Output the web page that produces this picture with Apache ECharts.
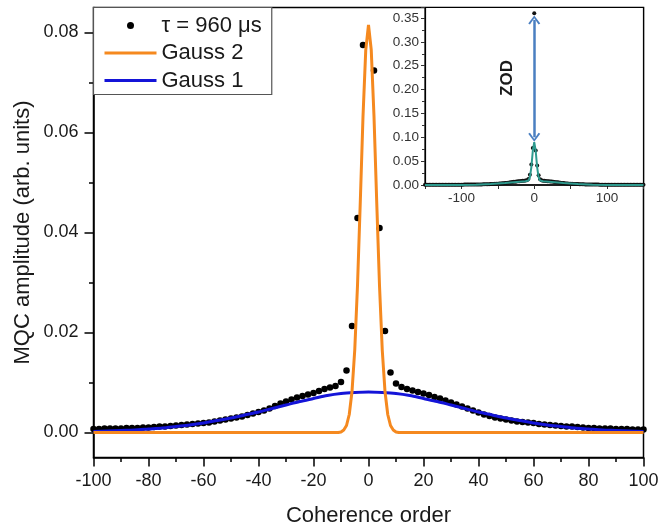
<!DOCTYPE html>
<html>
<head>
<meta charset="utf-8">
<script src="https://cdn.jsdelivr.net/npm/echarts@6/dist/echarts.min.js"></script>
<style>
  html, body { margin: 0; padding: 0; background: #fff; }
  #chart { width: 659px; height: 530px; }
</style>
</head>
<body>
<div id="chart"></div>
<script>
// Coherence orders of the measured MQC spectrum (even orders only)
const orders = [
  -150,-148,-146,-144,-142,-140,-138,-136,-134,-132,-130,-128,-126,-124,-122,-120,-118,-116,-114,-112,-110,-108,-106,-104,-102,
  -100,-98,-96,-94,-92,-90,-88,-86,-84,-82,-80,-78,-76,-74,-72,-70,-68,-66,-64,-62,
  -60,-58,-56,-54,-52,-50,-48,-46,-44,-42,-40,-38,-36,-34,-32,-30,-28,-26,-24,-22,
  -20,-18,-16,-14,-12,-10,-8,-6,-4,-2,0,2,4,6,8,10,12,14,16,18,20,
  22,24,26,28,30,32,34,36,38,40,42,44,46,48,50,52,54,56,58,60,
  62,64,66,68,70,72,74,76,78,80,82,84,86,88,90,92,94,96,98,100,
  102,104,106,108,110,112,114,116,118,120,122,124,126,128,130,132,134,136,138,140,142,144,146,148,150
];
// Measured amplitude, tau = 960 us
const amplitude = [
  0.0003,0.0003,0.0003,0.0003,0.0003,0.0003,0.0003,0.0003,0.0004,0.0004,0.0004,0.0004,0.0004,0.0004,0.0004,0.0005,0.0005,0.0005,0.0005,0.0005,0.0005,0.0006,0.0006,0.0006,0.0007,
  0.0007,0.0007,0.0008,0.0008,0.0008,0.0008,0.0009,0.0009,0.0009,0.0010,0.0010,0.0011,0.0012,0.0012,0.0013,0.0014,0.0015,0.0016,0.0017,0.0018,
  0.0019,0.0020,0.0022,0.0024,0.0026,0.0028,0.0030,0.0032,0.0035,0.0038,0.0041,0.0044,0.0048,0.0053,0.0058,0.0062,0.0066,0.0070,0.0073,0.0076,
  0.0079,0.0083,0.0087,0.0090,0.0093,0.0101,0.0124,0.0213,0.0429,0.0775,0.360,0.0724,0.0409,0.0203,0.0120,0.0098,0.0091,0.0087,0.0084,0.0081,0.0078,
  0.0075,0.0071,0.0068,0.0064,0.0060,0.0056,0.0052,0.0048,0.0044,0.0040,0.0036,0.0033,0.0030,0.0028,0.0026,0.0024,0.0022,0.0021,0.0020,0.0019,
  0.0017,0.0016,0.0015,0.0014,0.0013,0.0012,0.0012,0.0011,0.0010,0.0009,0.0009,0.0008,0.0008,0.0008,0.0007,0.0007,0.0007,0.0006,0.0006,0.0006,
  0.0006,0.0005,0.0005,0.0005,0.0005,0.0005,0.0004,0.0004,0.0004,0.0004,0.0004,0.0004,0.0004,0.0003,0.0003,0.0003,0.0003,0.0003,0.0003,0.0003,0.0003,0.0003,0.0003,0.0003,0.0003
];

// Narrow Gaussian component (Gauss 2)
const gauss2Orders = [-100,-11,-10,-9,-8,-7,-6,-5,-4,-3,-2,-1,0,1,2,3,4,5,6,7,8,9,10,11,100];
const gauss2Values = [0,0,0.0001,0.0005,0.0014,0.0036,0.0082,0.0165,0.0294,0.0459,0.0632,0.0765,0.0815,
                      0.0765,0.0632,0.0459,0.0294,0.0165,0.0082,0.0036,0.0014,0.0005,0.0001,0,0];

// Broad Gaussian component (Gauss 1)
const gauss1Orders = [-100,-95,-90,-85,-80,-75,-70,-65,-60,-55,-50,-45,-40,-35,-30,-25,-20,-15,-10,-5,0,
                      5,10,15,20,25,30,35,40,45,50,55,60,65,70,75,80,85,90,95,100];
const gauss1Values = [0.0002,0.0003,0.0004,0.0005,0.0007,0.0009,0.0012,0.0015,0.0019,0.0024,0.0029,0.0035,0.0041,0.0048,0.0055,0.0062,0.0068,0.0074,0.0078,0.0080,0.0081,
                      0.0080,0.0078,0.0074,0.0068,0.0062,0.0055,0.0048,0.0041,0.0035,0.0029,0.0024,0.0019,0.0015,0.0012,0.0009,0.0007,0.0005,0.0004,0.0003,0.0002];

// Total fit shown in the overview panel
const fitOrders = [-150,-120,-100,-80,-60,-40,-20,-12,-10,-8,-6,-4,-2,0,2,4,6,8,10,12,20,40,60,80,100,120,150];
const fitValues = [0,0.0001,0.0002,0.0007,0.0019,0.0041,0.0068,0.0077,0.0079,0.0094,0.0161,0.0370,0.0712,0.0896,
                   0.0712,0.0370,0.0161,0.0094,0.0079,0.0077,0.0068,0.0041,0.0019,0.0007,0.0002,0.0001,0];

// Zero-order (ZOD) excess marked by the double arrow
const zodOrder = 0;
const zodRange = [0.100, 0.346];

// Axis tick values
const mainYTicks = [0, 0.02, 0.04, 0.06, 0.08];
const mainYMinorTicks = [0.01, 0.03, 0.05, 0.07];
const insetXLabels = [-100, 0, 100];

const pairs = (xs, ys) => xs.map((x, i) => [x, ys[i]]);

const FONT = '"Liberation Sans", Arial, sans-serif';
const INK = '#1a1a1a';
const ORANGE = '#f5891f';
const BLUE = '#1414d8';
const TEAL = '#2e9a8e';
const ARROW = '#4a7fc1';
const chevron = 'path://M0,9 L5,0 L10,9 L8.6,10 L5,3.2 L1.4,10 Z';
const lineIcon = 'path://M0,0 L52,0 L52,3 L0,3 Z';

const chart = echarts.init(document.getElementById('chart'), null, { renderer: 'canvas' });

chart.setOption({
  animation: false,
  backgroundColor: '#fff',
  textStyle: { fontFamily: FONT, color: INK },
  grid: [
    { left: 93.5, right: 15.5, top: 7.5, bottom: 72.5, outerBoundsMode: 'none', containLabel: false,
      show: true, borderColor: '#000', borderWidth: 1.5, backgroundColor: 'transparent' },
    { left: 425, right: 15.5, top: 7.5, bottom: 345, outerBoundsMode: 'none', containLabel: false,
      show: true, borderColor: '#000', borderWidth: 1.2, backgroundColor: '#fff' }
  ],
  legend: {
    left: 93.5, top: 7.5,
    orient: 'vertical',
    data: [
      { name: 'τ = 960 μs', icon: 'circle' },
      { name: 'Gauss 2', icon: lineIcon },
      { name: 'Gauss 1', icon: lineIcon }
    ],
    itemWidth: 52, itemHeight: 7, itemGap: 5.5,
    padding: [7, 10, 3, 11],
    backgroundColor: '#fff',
    borderColor: '#555', borderWidth: 1.2,
    textStyle: { fontFamily: FONT, fontSize: 22, lineHeight: 22, color: INK },
    selectedMode: false
  },
  xAxis: [
    {
      gridIndex: 0, type: 'value', min: -100, max: 100, interval: 20,
      axisLine: { onZero: false, lineStyle: { color: '#000', width: 1.5 } },
      axisTick: { inside: false, length: 9, lineStyle: { color: '#000', width: 1.5 } },
      minorTick: { show: true, splitNumber: 2, length: 4.5, lineStyle: { color: '#000', width: 1.5 } },
      splitLine: { show: false },
      axisLabel: { fontFamily: FONT, fontSize: 18, color: INK, margin: 15 },
      name: 'Coherence order', nameLocation: 'middle', nameGap: 47, nameMoveOverlap: false,
      nameTextStyle: { fontFamily: FONT, fontSize: 22, color: INK }
    },
    {
      gridIndex: 1, type: 'value', min: -150, max: 150, interval: 50,
      axisLine: { onZero: false, lineStyle: { color: '#000', width: 1.5 } },
      axisTick: { inside: false, length: 4, lineStyle: { color: '#333', width: 1 } },
      splitLine: { show: false },
      axisLabel: {
        fontFamily: FONT, fontSize: 13.5, color: '#333', margin: 6,
        formatter: v => insetXLabels.includes(v) ? String(v) : ''
      }
    }
  ],
  yAxis: [
    {
      gridIndex: 0, type: 'value', min: -0.005, max: 0.085, position: 'left',
      axisLine: { show: true, onZero: false, lineStyle: { color: '#000', width: 1.5 } },
      axisTick: { show: true, inside: false, length: 9, customValues: mainYTicks, lineStyle: { color: '#000', width: 1.5 } },
      axisLabel: { fontFamily: FONT, fontSize: 18, color: INK, margin: 15, customValues: mainYTicks, formatter: v => v.toFixed(2) },
      splitLine: { show: false },
      name: 'MQC amplitude (arb. units)', nameLocation: 'middle', nameGap: 60, nameMoveOverlap: false,
      nameTextStyle: { fontFamily: FONT, fontSize: 22, color: INK }
    },
    {
      gridIndex: 0, type: 'value', min: -0.005, max: 0.085, position: 'left', offset: 0,
      axisLine: { show: false, onZero: false },
      axisTick: { show: true, inside: false, length: 4.5, customValues: mainYMinorTicks, lineStyle: { color: '#000', width: 1.5 } },
      axisLabel: { show: false },
      splitLine: { show: false }
    },
    {
      gridIndex: 1, type: 'value', min: 0, max: 0.372, interval: 0.05, position: 'left',
      axisLine: { show: true, onZero: false, lineStyle: { color: '#000', width: 1.2 } },
      axisTick: { inside: false, length: 4, lineStyle: { color: '#333', width: 1 } },
      minorTick: { show: true, splitNumber: 2, length: 3, lineStyle: { color: '#333', width: 1 } },
      splitLine: { show: false },
      axisLabel: { fontFamily: FONT, fontSize: 13.5, color: '#333', margin: 6, formatter: v => v.toFixed(2) }
    }
  ],
  series: [
    {
      name: 'τ = 960 μs', type: 'scatter', xAxisIndex: 0, yAxisIndex: 0,
      data: pairs(orders, amplitude),
      symbol: 'circle', symbolSize: 6.5,
      itemStyle: { color: '#000', opacity: 1 }, z: 2
    },
    {
      name: 'Gauss 1', type: 'line', xAxisIndex: 0, yAxisIndex: 0,
      data: pairs(gauss1Orders, gauss1Values),
      symbol: 'none', smooth: 0.3,
      lineStyle: { color: BLUE, width: 3 }, itemStyle: { color: BLUE }, z: 3
    },
    {
      name: 'Gauss 2', type: 'line', xAxisIndex: 0, yAxisIndex: 0,
      data: pairs(gauss2Orders, gauss2Values),
      symbol: 'none',
      lineStyle: { color: ORANGE, width: 3 }, itemStyle: { color: ORANGE }, z: 4
    },
    {
      name: 'overview points', type: 'scatter', xAxisIndex: 1, yAxisIndex: 2,
      data: pairs(orders, amplitude),
      symbol: 'circle', symbolSize: 4,
      itemStyle: { color: '#111', opacity: 1 }, z: 6
    },
    {
      name: 'overview fit', type: 'line', xAxisIndex: 1, yAxisIndex: 2,
      data: pairs(fitOrders, fitValues),
      symbol: 'none',
      lineStyle: { color: TEAL, width: 2 }, z: 7,
      markLine: {
        silent: true,
        symbol: [chevron, chevron], symbolSize: [12, 9],
        lineStyle: { color: ARROW, width: 2.5, type: 'solid' },
        label: { show: false },
        data: [[{ coord: [zodOrder, zodRange[0]] }, { coord: [zodOrder, zodRange[1]] }]]
      }
    }
  ],
  graphic: [
    {
      type: 'text', x: 507, y: 78, rotation: Math.PI / 2, z: 100,
      style: { text: 'ZOD', font: 'bold 17px "Liberation Sans", Arial, sans-serif', fill: INK, align: 'center', verticalAlign: 'middle' }
    }
  ]
});
</script>
</body>
</html>
